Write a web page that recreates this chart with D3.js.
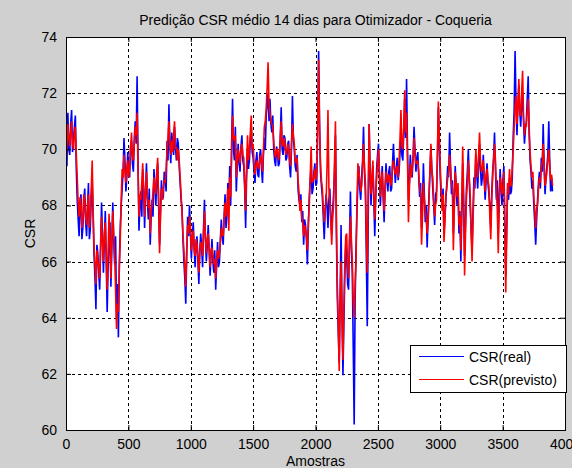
<!DOCTYPE html>
<html>
<head>
<meta charset="utf-8">
<script src="https://cdn.jsdelivr.net/npm/d3@7"></script>
<style>
  html, body { margin: 0; padding: 0; background: #d0d0d0; }
  svg { display: block; }
  text { font-family: "Liberation Sans", Arial, sans-serif; fill: #000; }
</style>
</head>
<body>
<svg id="chart" width="572" height="468"></svg>
<script>
// Amostras (eixo x): uma leitura a cada 7,5 amostras
const passoAmostras = 7.5;

// CSR medido
const csrReal = [
  70.2, 69.4, 71.3, 70.0, 69.8, 70.9, 71.4, 69.9, 70.4, 70.8, 71.2, 69.3, 68.2, 67.5, 66.9, 68.0, 68.4, 66.8, 67.2, 68.1,
  68.6, 67.4, 66.9, 67.9, 68.8, 66.8, 67.2, 68.3, 68.9, 67.6, 66.2, 65.4, 64.3, 66.6, 66.3, 65.6, 65.0, 66.4, 68.1, 66.9,
  65.6, 66.8, 67.8, 66.0, 64.2, 65.8, 66.6, 67.4, 65.1, 66.5, 68.1, 66.8, 65.9, 66.9, 64.0, 65.2, 63.3, 65.9, 67.2, 68.0,
  68.6, 69.2, 70.4, 69.6, 68.5, 69.0, 69.9, 69.2, 69.0, 70.1, 70.3, 69.5, 69.2, 70.4, 71.0, 70.2, 72.6, 69.5, 67.1, 68.0,
  68.5, 67.6, 69.3, 68.6, 67.2, 68.4, 69.5, 68.2, 67.5, 68.6, 66.6, 67.6, 68.2, 67.6, 69.3, 68.8, 68.0, 68.9, 69.5, 68.0,
  66.6, 67.8, 68.9, 68.2, 68.3, 69.2, 69.0, 68.5, 70.3, 69.6, 71.6, 70.2, 69.5, 70.6, 70.2, 69.8, 70.8, 70.1, 69.6, 70.4,
  70.2, 69.4, 68.8, 68.2, 67.9, 66.8, 66.0, 65.4, 64.5, 66.2, 67.6, 66.9, 68.0, 67.0, 66.1, 66.9, 67.4, 66.5, 65.8, 66.6,
  66.9, 66.0, 65.2, 66.4, 67.0, 66.5, 65.8, 67.2, 68.2, 66.8, 66.0, 66.6, 67.3, 66.4, 65.5, 66.2, 66.8, 66.0, 65.6, 66.4,
  65.0, 65.9, 66.7, 65.8, 66.0, 66.8, 67.5, 66.9, 66.6, 67.6, 68.4, 67.2, 67.6, 68.8, 68.0, 69.4, 68.0, 70.2, 71.8, 70.0,
  69.6, 70.8, 68.5, 69.4, 70.2, 69.5, 69.2, 70.1, 70.5, 69.6, 69.4, 68.6, 67.2, 69.0, 70.0, 69.3, 69.6, 70.3, 70.8, 69.9,
  69.7, 69.2, 68.8, 69.6, 69.9, 69.1, 69.0, 69.8, 70.0, 69.3, 68.8, 69.8, 70.4, 70.0, 71.2, 71.6, 72.0, 71.0, 71.8, 70.9,
  70.6, 71.2, 70.0, 69.6, 69.4, 70.1, 69.9, 69.4, 69.5, 70.4, 71.5, 70.0, 69.8, 70.5, 70.4, 69.6, 69.7, 70.2, 70.3, 69.4,
  69.0, 70.0, 71.9, 70.4, 70.0, 69.4, 69.2, 69.8, 68.6, 68.2, 68.0, 68.4, 67.4, 67.8, 66.6, 67.5, 67.3, 66.8, 65.9, 67.2,
  68.3, 68.9, 69.4, 68.4, 68.6, 69.2, 69.5, 68.7, 68.8, 70.8, 73.5, 71.0, 69.2, 68.7, 68.3, 67.6, 66.8, 67.8, 68.4, 68.0,
  67.2, 68.2, 68.6, 67.6, 67.0, 67.8, 68.4, 69.2, 70.5, 67.0, 64.7, 63.5, 62.4, 64.8, 67.3, 64.2, 61.95, 63.8, 65.5, 66.6,
  66.2, 65.2, 65.0, 66.8, 68.5, 66.4, 65.6, 63.0, 60.2, 64.6, 66.5, 67.8, 68.8, 69.4, 68.6, 68.2, 69.0, 69.6, 70.8, 69.2,
  68.5, 66.2, 63.7, 67.4, 70.9, 69.2, 68.0, 68.9, 69.4, 68.2, 66.9, 68.2, 69.3, 69.8, 70.2, 69.0, 68.0, 68.8, 69.4, 68.3,
  67.4, 68.6, 69.5, 68.9, 68.5, 69.2, 69.4, 68.5, 68.6, 69.5, 70.2, 69.4, 68.8, 69.3, 69.7, 68.9, 69.2, 69.9, 70.4, 69.8,
  69.6, 70.6, 71.8, 70.4, 72.5, 70.0, 68.2, 68.8, 69.8, 69.2, 69.0, 69.8, 70.8, 70.0, 69.2, 69.7, 69.9, 69.0, 68.3, 68.8,
  67.2, 68.0, 69.5, 68.4, 67.4, 68.0, 66.5, 67.6, 68.4, 69.2, 70.1, 69.3, 68.6, 68.0, 67.3, 68.4, 68.5, 69.6, 71.5, 70.2,
  69.0, 68.3, 68.0, 68.6, 67.0, 67.6, 68.2, 68.8, 69.4, 69.0, 70.6, 69.4, 68.4, 68.9, 67.0, 68.2, 69.4, 68.6, 68.0, 68.6,
  67.0, 67.8, 66.0, 67.6, 69.5, 68.0, 66.2, 67.4, 68.6, 69.2, 70.0, 68.9, 68.0, 67.2, 66.4, 67.8, 69.0, 68.6, 69.8, 69.1,
  68.6, 69.4, 70.2, 69.3, 68.7, 69.0, 69.8, 68.9, 68.2, 68.9, 69.5, 68.8, 68.4, 68.0, 67.2, 68.4, 69.2, 69.7, 70.6, 69.3,
  68.2, 68.9, 67.0, 68.2, 69.3, 68.6, 68.0, 68.9, 69.4, 67.6, 65.5, 67.2, 68.6, 68.2, 69.0, 68.4, 68.5, 69.0, 70.5, 71.4,
  73.5, 71.6, 70.5, 71.5, 72.3, 71.4, 70.8, 71.6, 72.0, 71.0, 70.2, 70.7, 71.0, 71.8, 72.6, 70.6, 69.6, 69.2, 68.6, 68.9,
  68.0, 67.4, 66.6, 67.5, 68.2, 68.8, 69.2, 68.6, 69.7, 69.2, 70.9, 69.5, 68.4, 69.0, 69.4, 69.8, 71.0, 69.6, 68.5, 69.0,
  68.5
];

// CSR previsto pelo modelo
const csrPrevisto = [
  69.5, 70.2, 70.9, 70.4, 70.1, 70.6, 71.0, 70.2, 70.0, 70.5, 70.8, 69.8, 69.0, 68.1, 67.6, 68.3, 68.0, 67.2, 67.5, 68.4,
  68.2, 67.6, 67.3, 68.0, 68.4, 67.2, 67.6, 68.6, 69.6, 67.8, 66.5, 65.9, 65.2, 66.4, 66.0, 65.8, 65.4, 66.7, 67.6, 66.6,
  66.0, 67.0, 67.4, 66.2, 65.0, 66.4, 67.7, 66.8, 65.4, 66.9, 67.8, 66.9, 66.2, 65.0, 63.6, 64.5, 64.2, 65.8, 66.8, 68.2,
  69.3, 69.0, 69.8, 69.2, 68.8, 69.3, 69.6, 69.0, 69.4, 70.0, 70.6, 69.8, 69.6, 70.2, 70.8, 70.5, 71.3, 69.2, 67.6, 68.4,
  68.2, 68.8, 69.5, 68.4, 67.6, 68.6, 69.2, 68.4, 67.9, 68.2, 67.0, 67.8, 68.0, 68.5, 69.0, 68.6, 68.4, 69.2, 69.7, 68.2,
  66.3, 67.6, 68.6, 68.2, 68.6, 68.9, 68.8, 69.3, 70.0, 70.4, 71.0, 70.2, 69.8, 70.3, 69.9, 70.5, 71.0, 70.0, 70.1, 69.6,
  70.0, 69.6, 69.0, 68.4, 67.7, 67.0, 66.4, 65.8, 65.1, 66.4, 67.3, 67.0, 67.6, 67.2, 66.4, 66.8, 67.1, 66.4, 66.2, 66.8,
  66.6, 66.2, 65.6, 66.3, 66.7, 66.6, 66.2, 67.0, 67.8, 66.9, 66.3, 66.8, 67.0, 66.5, 65.8, 66.4, 66.5, 66.2, 65.9, 66.1,
  65.4, 66.0, 66.4, 66.1, 66.3, 66.7, 67.2, 67.0, 66.9, 67.5, 68.1, 67.6, 67.9, 68.6, 67.1, 69.0, 68.3, 69.8, 71.2, 70.4,
  70.3, 70.5, 69.0, 69.6, 70.0, 69.8, 69.5, 70.0, 70.2, 69.8, 69.7, 68.8, 67.8, 69.4, 70.5, 69.6, 69.9, 70.6, 71.2, 70.0,
  70.2, 69.5, 69.1, 69.4, 69.6, 69.4, 69.3, 69.6, 69.8, 69.5, 69.2, 70.0, 70.8, 71.0, 71.5, 72.2, 73.1, 71.6, 71.3, 71.0,
  70.9, 70.8, 70.3, 69.9, 69.7, 70.0, 70.0, 69.6, 69.8, 70.4, 71.0, 70.2, 70.1, 70.4, 70.2, 69.8, 69.9, 70.2, 70.0, 69.6,
  69.4, 70.2, 70.9, 70.5, 70.2, 69.6, 69.5, 69.7, 68.9, 68.5, 67.8, 68.2, 67.6, 67.4, 66.9, 67.3, 67.1, 66.9, 66.4, 67.4,
  68.0, 69.0, 70.1, 68.8, 68.9, 69.0, 69.3, 68.9, 69.1, 71.0, 73.2, 70.6, 69.5, 68.9, 68.6, 67.9, 67.4, 67.9, 68.1, 69.4,
  71.4, 68.6, 68.2, 67.4, 66.6, 67.6, 68.0, 69.6, 71.0, 67.6, 65.2, 63.8, 62.1, 64.6, 66.0, 63.9, 62.5, 64.4, 66.0, 66.9,
  67.0, 65.8, 65.4, 66.6, 67.6, 66.8, 66.0, 64.6, 64.0, 65.2, 66.0, 68.2, 69.5, 69.2, 68.9, 68.5, 68.7, 69.4, 70.2, 69.4,
  68.8, 67.0, 65.6, 68.6, 70.9, 69.3, 68.4, 69.0, 69.6, 68.4, 67.5, 68.4, 69.0, 69.5, 70.0, 69.2, 68.3, 68.9, 69.2, 68.4,
  67.8, 68.5, 69.2, 69.0, 68.8, 69.1, 69.0, 68.7, 68.9, 69.4, 69.6, 69.3, 69.1, 69.2, 69.4, 69.0, 69.6, 70.4, 71.4, 70.1,
  70.0, 70.8, 72.1, 70.6, 71.3, 69.6, 67.4, 68.6, 69.5, 69.0, 69.3, 69.6, 70.4, 69.8, 69.5, 69.5, 69.6, 69.2, 68.6, 68.4,
  66.6, 67.6, 68.8, 68.2, 67.8, 67.6, 67.0, 67.4, 68.2, 69.3, 70.2, 69.2, 69.0, 68.2, 67.6, 68.0, 68.2, 70.0, 71.7, 70.4,
  69.4, 68.6, 67.8, 68.4, 66.7, 67.4, 68.4, 68.6, 69.0, 69.2, 69.8, 69.3, 68.8, 68.6, 66.4, 67.8, 69.2, 68.8, 68.3, 68.8,
  67.3, 67.6, 66.4, 68.2, 70.1, 68.4, 65.5, 67.0, 68.3, 68.8, 69.6, 69.0, 68.4, 67.0, 66.0, 67.4, 68.6, 68.9, 70.0, 69.4,
  69.0, 69.8, 70.6, 69.6, 69.2, 69.3, 69.6, 69.0, 68.5, 69.1, 69.3, 68.9, 68.7, 67.6, 66.8, 68.2, 69.0, 69.6, 70.2, 69.6,
  68.6, 67.8, 66.3, 68.0, 69.0, 68.8, 68.4, 68.6, 69.2, 67.0, 64.9, 66.8, 68.8, 68.4, 69.3, 68.7, 68.7, 69.4, 70.0, 70.8,
  71.5, 71.9, 70.9, 71.6, 72.5, 71.2, 71.2, 72.0, 72.8, 71.2, 70.5, 70.9, 70.8, 71.4, 71.8, 70.8, 69.9, 69.4, 69.0, 69.2,
  68.3, 67.8, 67.2, 67.9, 68.0, 68.6, 69.0, 68.8, 69.4, 69.5, 70.2, 69.4, 68.7, 68.9, 69.2, 69.6, 70.0, 69.4, 68.9, 69.1,
  68.7
];

const ticksX = [0, 500, 1000, 1500, 2000, 2500, 3000, 3500, 4000];
const ticksY = [60, 62, 64, 66, 68, 70, 72, 74];

const titulo = "Predição CSR médio 14 dias para Otimizador - Coqueria";
const rotuloX = "Amostras";
const rotuloY = "CSR";
const series = [
  { nome: "CSR(real)", valores: csrReal, cor: "#0000ff" },
  { nome: "CSR(previsto)", valores: csrPrevisto, cor: "#ff0000" }
];

const fonte = 14;
const svg = d3.select("#chart");
const area = { left: 66, right: 565, top: 37, bottom: 430 };
const W = area.right - area.left, H = area.bottom - area.top;

const x = d3.scaleLinear().domain([0, 4000]).range([0, W]);
const y = d3.scaleLinear().domain([60, 74]).range([H, 0]);

const g = svg.append("g").attr("transform", `translate(${area.left},${area.top})`);

g.append("rect").attr("width", W).attr("height", H).attr("fill", "#fff");

// grade pontilhada
g.append("g").selectAll("line").data(ticksX.slice(1, -1)).join("line")
  .attr("x1", d => Math.round(x(d)) + 0.5).attr("x2", d => Math.round(x(d)) + 0.5)
  .attr("y1", 0).attr("y2", H)
  .attr("stroke", "#000").attr("stroke-dasharray", "3,3").attr("stroke-width", 1);
g.append("g").selectAll("line").data(ticksY.slice(1, -1)).join("line")
  .attr("y1", d => Math.round(y(d)) + 0.5).attr("y2", d => Math.round(y(d)) + 0.5)
  .attr("x1", 0).attr("x2", W)
  .attr("stroke", "#000").attr("stroke-dasharray", "3,3").attr("stroke-width", 1);

// curvas: real primeiro, previsto por cima
const linha = d3.line()
  .x((d, i) => x(i * passoAmostras))
  .y(d => y(d));

svg.append("defs").append("clipPath").attr("id", "clipArea")
  .append("rect").attr("width", W).attr("height", H);

const curvas = g.append("g").attr("clip-path", "url(#clipArea)");
series.forEach(s => {
  curvas.append("path")
    .datum(s.valores)
    .attr("d", linha)
    .attr("fill", "none")
    .attr("stroke", s.cor)
    .attr("stroke-width", 1.6)
    .attr("stroke-linejoin", "bevel");
});

// eixos (marcas para dentro, caixa fechada)
const tick = 5;
const eixoX = d3.axisBottom(x).tickValues(ticksX).tickSize(-tick).tickPadding(9).tickFormat(d3.format("d"));
const eixoY = d3.axisLeft(y).tickValues(ticksY).tickSize(-tick).tickPadding(9).tickFormat(d3.format("d"));
const eixoXTopo = d3.axisTop(x).tickValues(ticksX).tickSize(-tick).tickFormat("");
const eixoYDir = d3.axisRight(y).tickValues(ticksY).tickSize(-tick).tickFormat("");

function estilo(sel) {
  sel.select(".domain").remove();
  sel.selectAll(".tick line").attr("stroke", "#000");
  sel.selectAll(".tick text").attr("font-size", fonte).attr("font-family", "Liberation Sans, Arial, sans-serif").attr("fill", "#000");
}
g.append("g").attr("transform", `translate(0,${H})`).call(eixoX).call(estilo);
g.append("g").call(eixoY).call(estilo);
g.append("g").call(eixoXTopo).call(estilo);
g.append("g").attr("transform", `translate(${W},0)`).call(eixoYDir).call(estilo);

g.append("rect").attr("x", 0.5).attr("y", 0.5).attr("width", W).attr("height", H)
  .attr("fill", "none").attr("stroke", "#000").attr("stroke-width", 1);

// textos
svg.append("text").attr("x", area.left + W / 2).attr("y", 25)
  .attr("text-anchor", "middle").attr("font-size", fonte).text(titulo);
svg.append("text").attr("x", area.left + W / 2).attr("y", 466)
  .attr("text-anchor", "middle").attr("font-size", fonte).text(rotuloX);
svg.append("text").attr("transform", `translate(35,${area.top + H / 2}) rotate(-90)`)
  .attr("text-anchor", "middle").attr("font-size", fonte).text(rotuloY);

// legenda
const leg = svg.append("g").attr("transform", "translate(410,345)");
leg.append("rect").attr("x", 0.5).attr("y", 0.5).attr("width", 156).attr("height", 47)
  .attr("fill", "#fff").attr("stroke", "#000");
series.forEach((s, i) => {
  const yy = 11.5 + i * 23;
  leg.append("line").attr("x1", 9).attr("x2", 54).attr("y1", yy).attr("y2", yy)
    .attr("stroke", s.cor).attr("stroke-width", 1);
  leg.append("text").attr("x", 59).attr("y", yy + 5).attr("font-size", fonte).text(s.nome);
});
</script>
</body>
</html>
